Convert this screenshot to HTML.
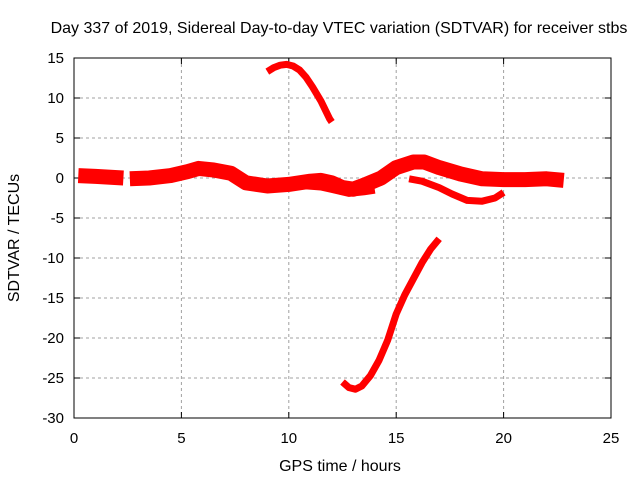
<!DOCTYPE html>
<html><head><meta charset="utf-8"><style>
body{margin:0;background:#fff}
svg{display:block;font-family:"Liberation Sans",sans-serif}
</style></head><body>
<svg id="chart" width="640" height="480" xmlns="http://www.w3.org/2000/svg">
<rect width="640" height="480" fill="#fff"/>
<text x="339" y="33" font-size="16" text-anchor="middle">Day 337 of 2019, Sidereal Day-to-day VTEC variation (SDTVAR) for receiver stbs</text>
<text x="340" y="471" font-size="16" text-anchor="middle">GPS time / hours</text>
<text transform="translate(19,238) rotate(-90)" font-size="16" text-anchor="middle">SDTVAR / TECUs</text>
<g id="grid"></g>
<g id="ticks"></g>
<g id="series"></g>
<rect x="74" y="58" width="537" height="360" fill="none" stroke="#000" stroke-width="1"/>
</svg>
<script>
const xTicks=[0,5,10,15,20,25];
const yTicks=[15,10,5,0,-5,-10,-15,-20,-25,-30];
const bandA=[[0.2,0.3],[1,0.2],[2.3,0.0]];
const bandB=[[2.6,-0.1],[3.5,0.0],[4.5,0.3],[5.3,0.8],[5.8,1.2],[6.5,1.0],[7.3,0.6],[8,-0.6],[9,-1],[10,-0.8],[11,-0.4],[11.5,-0.3],[12,-0.6],[12.5,-1.2],[13,-1.4],[13.5,-0.9],[14.3,0],[15,1.3],[15.8,2.0],[16.3,2.0],[17,1.3],[18,0.5],[19,-0.1],[20,-0.2],[21,-0.2],[22,-0.1],[22.8,-0.3]];
const bandLow=[[10.5,-0.8],[11.5,-1.0],[12,-1.3],[12.8,-1.8],[13.5,-1.6],[14,-1.4]];
const humpC=[[15.6,-0.1],[16.2,-0.4],[17,-1.2],[17.6,-2.0],[18.3,-2.8],[19,-2.9],[19.6,-2.5],[20,-1.8]];
const topArc=[[9,13.3],[9.3,13.8],[9.6,14.1],[9.9,14.2],[10.2,14.0],[10.5,13.5],[10.8,12.6],[11.1,11.4],[11.5,9.6],[11.9,7.4],[12,7]];
const bottomArc=[[12.5,-25.5],[12.8,-26.2],[13.1,-26.4],[13.4,-26.0],[13.8,-24.7],[14.2,-22.8],[14.6,-20.3],[15,-17.0],[15.4,-14.6],[15.8,-12.6],[16.2,-10.6],[16.6,-8.9],[17,-7.6]];
const NS="http://www.w3.org/2000/svg";
const X=t=>74+t*537/25, Y=v=>58+(15-v)*8;
function mk(tag,attrs,parent){const e=document.createElementNS(NS,tag);for(const k in attrs)e.setAttribute(k,attrs[k]);parent.appendChild(e);return e;}
const grid=document.getElementById('grid'),ticks=document.getElementById('ticks'),ser=document.getElementById('series');
xTicks.forEach(t=>{
  if(t>0&&t<25){const l=mk('line',{x1:X(t),x2:X(t),y1:58,y2:418,stroke:'#a0a0a0','stroke-dasharray':'3,3'},grid);
  
  }
  mk('line',{x1:X(t),x2:X(t),y1:418,y2:412,stroke:'#000'},ticks);
  mk('line',{x1:X(t),x2:X(t),y1:58,y2:64,stroke:'#000'},ticks);
  const tx=mk('text',{x:X(t),y:443,'font-size':15,'text-anchor':'middle'},ticks);tx.textContent=t;
  
  
});
yTicks.forEach(v=>{
  if(v<15&&v>-30){const l=mk('line',{x1:74,x2:611,y1:Y(v),y2:Y(v),stroke:'#a0a0a0','stroke-dasharray':'3,3'},grid);
  
  }
  mk('line',{x1:74,x2:80,y1:Y(v),y2:Y(v),stroke:'#000'},ticks);
  mk('line',{x1:611,x2:605,y1:Y(v),y2:Y(v),stroke:'#000'},ticks);
  const tx=mk('text',{x:64,y:Y(v)+5,'font-size':15,'text-anchor':'end'},ticks);tx.textContent=v;
  
  
});
function line(data,w,name){
  const p=mk('polyline',{points:data.map(d=>X(d[0])+','+Y(d[1])).join(' '),fill:'none',stroke:'#ff0000','stroke-width':w,'stroke-linejoin':'round'},ser);
  
  
}
line(bandA,15,'series-band-a');
line(bandB,15,'series-band-b');
line(bandLow,9,'series-band-low');
line(humpC,7,'series-hump');
line(topArc,7,'series-top-arc');
line(bottomArc,7,'series-bottom-arc');
</script>
</body></html>
